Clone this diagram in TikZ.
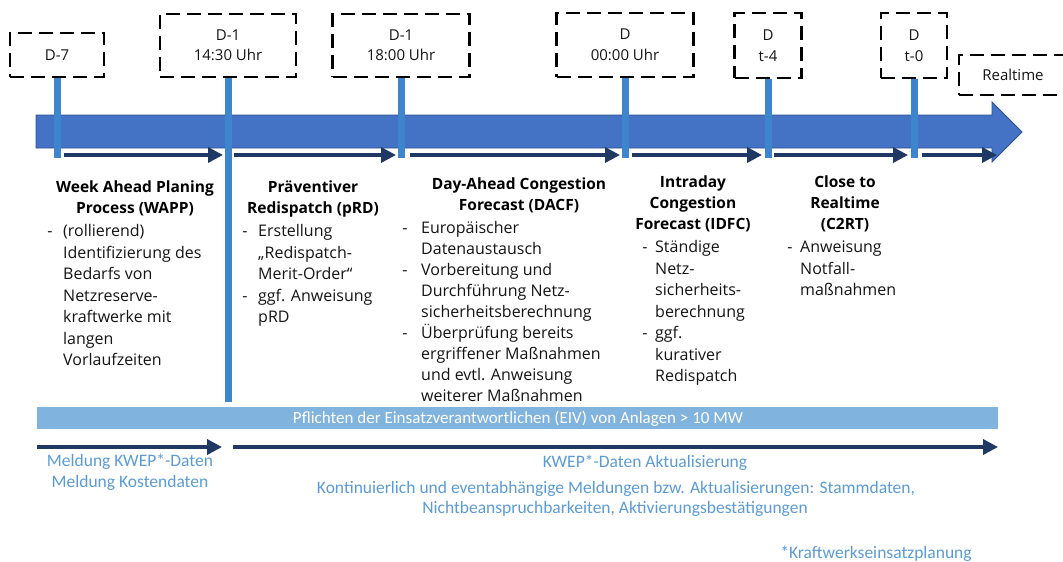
\documentclass[tikz,border=0pt]{standalone}
\usepackage{fontspec}
\setmainfont{Open Sans}
\newfontfamily\carl{Carlito}
\usetikzlibrary{arrows.meta}
\definecolor{bigblue}{RGB}{68,114,196}
\definecolor{bigedge}{RGB}{47,82,143}
\definecolor{vblue}{RGB}{61,133,204}
\definecolor{navy}{RGB}{31,56,100}
\definecolor{bandc}{RGB}{128,179,222}
\definecolor{ltxt}{RGB}{91,155,213}
\definecolor{txt}{RGB}{20,20,20}
\begin{document}
\begin{tikzpicture}[x=1pt,y=-1pt,
  dbox/.style={draw=black, line width=2.9pt, dash pattern=on 14pt off 7pt, inner sep=0pt, align=center, font=\fontsize{15}{20.5}\selectfont, text=txt},
  vline/.style={draw=vblue, line width=7pt},
  narrow/.style={draw=navy, line width=3.5pt, -{Triangle[length=15pt,width=15pt]}},
  ttl/.style={font=\bfseries\fontsize{15.5}{21}\selectfont, align=center, inner sep=0pt, anchor=north, text=black},
  body/.style={font=\fontsize{16}{21.5}\selectfont, align=left, inner sep=0pt, anchor=north west, text=txt},
  bodyc/.style={font=\fontsize{16}{21}\selectfont, align=left, inner sep=0pt, anchor=north west, text=txt},
  dsh/.style={font=\fontsize{16}{21.5}\selectfont, align=center, inner sep=0pt, anchor=north, text=txt},
  dshc/.style={font=\fontsize{16}{21}\selectfont, align=center, inner sep=0pt, anchor=north, text=txt},
  ltx/.style={font=\carl\fontsize{17.5}{20}\selectfont, text=ltxt, inner sep=0pt, anchor=base}
]
\clip (0,0) rectangle (1063,562);

% big timeline arrow
\fill[bigblue, draw=bigedge, line width=0.8pt] (36,115) -- (992,115) -- (992,102) -- (1022,132) -- (992,162) -- (992,148) -- (36,148) -- cycle;

% dashed boxes
\node[dbox, minimum width=94pt, minimum height=44pt] (b1) at (57,55) {D-7};
\node[dbox, minimum width=136pt, minimum height=63pt] (b2) at (228,45.5) {D-1\\14:30 Uhr};
\node[dbox, minimum width=137pt, minimum height=63pt] (b3) at (401,45.5) {D-1\\18:00 Uhr};
\node[dbox, minimum width=137pt, minimum height=64pt] (b4) at (625,45) {D\\00:00 Uhr};
\node[dbox, minimum width=67pt, minimum height=65pt] (b5) at (768,45.5) {D\\t-4};
\node[dbox, minimum width=66pt, minimum height=65pt] (b6) at (914,45.5) {D\\t-0};
\node[dbox, minimum width=108pt, minimum height=40pt] (b7) at (1013,75) {Realtime};

% small arrows
\coordinate (s1) at (64,155);  \coordinate (s1e) at (223,155);
\coordinate (s2) at (234,155); \coordinate (s2e) at (396,155);
\coordinate (s3) at (410,155); \coordinate (s3e) at (620,155);
\coordinate (s4) at (632,155); \coordinate (s4e) at (762,155);
\coordinate (s5) at (774,155); \coordinate (s5e) at (908,155);
\coordinate (s6) at (922,155); \coordinate (s6e) at (997,155);
\foreach \i in {1,...,6} {\draw[narrow] (s\i) -- (s\i e);}

% vertical markers
\coordinate (e1) at (57,158);
\coordinate (e2) at (228,402);
\coordinate (e3) at (401,158);
\coordinate (e4) at (625,158);
\coordinate (e5) at (768,158);
\coordinate (e6) at (914,158);
\foreach \i in {1,...,6} {\draw[vline] (b\i.south) -- (e\i);}

% column 1
\node[ttl] (t1) at (135,177.8) {\strut Week Ahead Planing\\Process (WAPP)};
\node[dsh] (d1) at (50,221.45) {\strut -};
\node[body] (p1) at (63,221.45) {\strut (rollierend)\\Identifizierung des\\Bedarfs von\\Netzreserve-\\kraftwerke mit\\langen\\Vorlaufzeiten};

% column 2
\node[ttl] (t2) at (313,177.8) {\strut Präventiver\\Redispatch (pRD)};
\node[dsh] (d2) at (245,221.45) {\strut -\\\mbox{}\\\mbox{}\\-};
\node[body] (p2) at (258,221.45) {\strut Erstellung\\„Redispatch-\\Merit-Order“\\ggf. Anweisung\\pRD};

% column 3
\node[ttl] (t3) at (519,174.8) {\strut Day-Ahead Congestion\\Forecast (DACF)};
\node[dshc] (d3) at (405,218.8) {\strut -\\\mbox{}\\-\\\mbox{}\\\mbox{}\\-};
\node[bodyc] (p3) at (421,218.8) {\strut Europäischer\\Datenaustausch\\Vorbereitung und\\Durchführung Netz-\\sicherheitsberechnung\\Überprüfung bereits\\ergriffener Maßnahmen\\und evtl. Anweisung\\weiterer Maßnahmen};

% column 4
\node[ttl] (t4) at (693,172.8) {\strut Intraday\\Congestion\\Forecast (IDFC)};
\node[dsh] (d4) at (645,237.5) {\strut -\\\mbox{}\\\mbox{}\\\mbox{}\\-};
\node[body] (p4) at (655,237.5) {\strut Ständige\\Netz-\\sicherheits-\\berechnung\\ggf.\\kurativer\\Redispatch};

% column 5
\node[ttl] (t5) at (845,172.8) {\strut Close to\\Realtime\\(C2RT)};
\node[dsh] (d5) at (790,237.5) {\strut -};
\node[body] (p5) at (800,237.5) {\strut Anweisung\\Notfall-\\maßnahmen};

% duties band
\fill[bandc] (37,407) rectangle (998,429);
\node[ltx, text=white, font=\carl\fontsize{17}{20}\selectfont] (band) at (518,423) {Pflichten der Einsatzverantwortlichen (EIV) von Anlagen > 10 MW};

% bottom arrows
\coordinate (u1) at (37,447);  \coordinate (u1e) at (222,447);
\coordinate (u2) at (233,447); \coordinate (u2e) at (998,447);
\draw[narrow] (u1) -- (u1e);
\draw[narrow] (u2) -- (u2e);

% bottom texts
\node[ltx] (m1) at (130,466) {Meldung KWEP*-Daten};
\node[ltx] (m2) at (130,487) {Meldung Kostendaten};
\node[ltx] (k1) at (645,467) {KWEP*-Daten Aktualisierung};
\node[ltx] (k2) at (616,493) {Kontinuierlich und eventabhängige Meldungen bzw. Aktualisierungen: Stammdaten,};
\node[ltx] (k3) at (615,513) {Nichtbeanspruchbarkeiten, Aktivierungsbestätigungen};
\node[ltx] (fn) at (876,558) {*Kraftwerkseinsatzplanung};
\end{tikzpicture}
\end{document}
